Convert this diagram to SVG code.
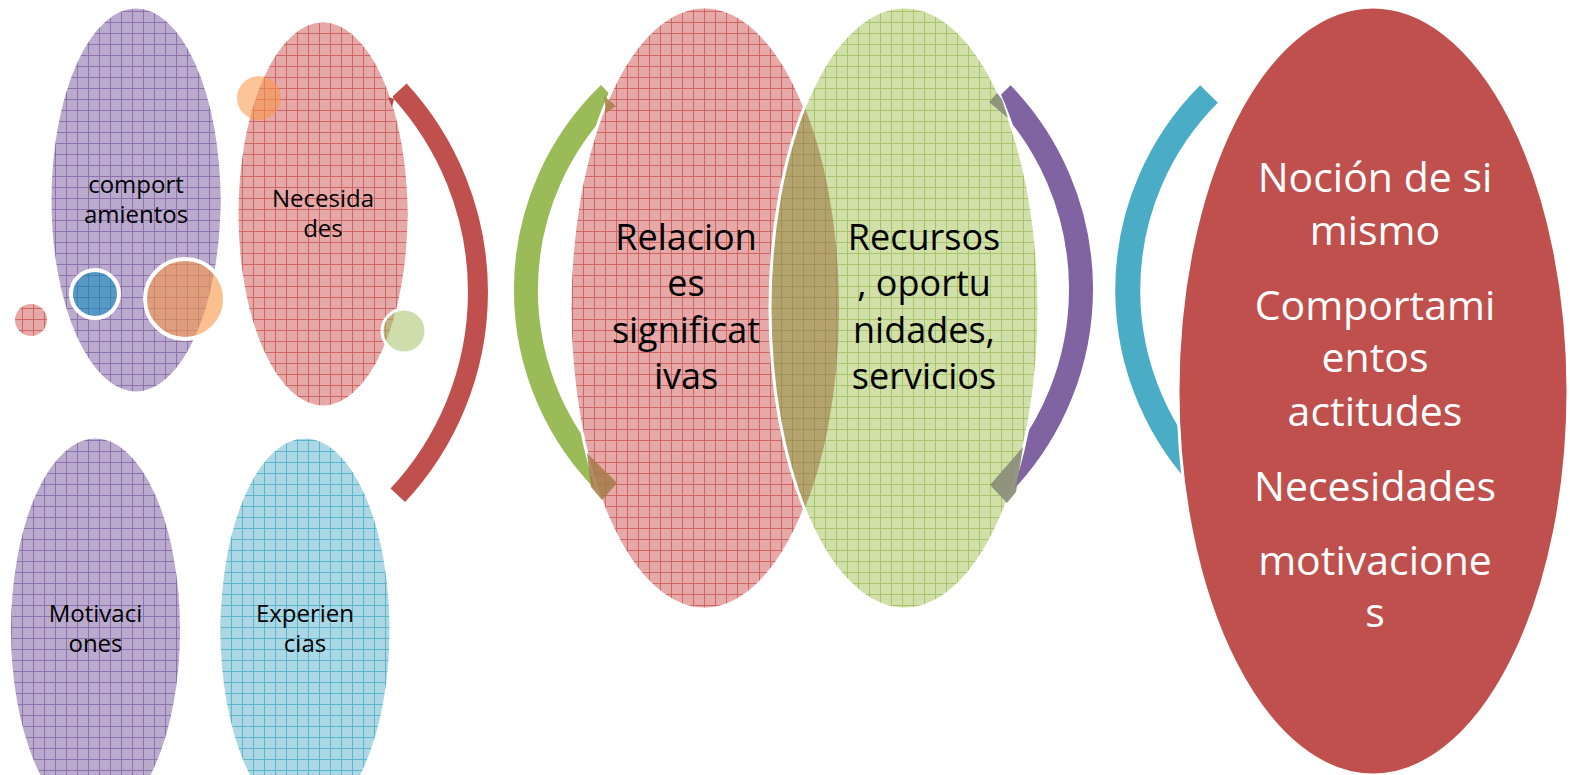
<svg xmlns="http://www.w3.org/2000/svg" width="1570" height="775" viewBox="0 0 1570 775">
<defs>
<pattern id="pPurple" width="11" height="11" patternUnits="userSpaceOnUse"><rect width="11" height="11" fill="#BAAACD"/><path d="M0 0.5H11M0.5 0V11" stroke="#8E72AE" stroke-width="1"/></pattern>
<pattern id="pRed" width="11" height="11" patternUnits="userSpaceOnUse"><rect width="11" height="11" fill="#E6A9A8"/><path d="M0 0.5H11M0.5 0V11" stroke="#CD6664" stroke-width="1"/></pattern>
<pattern id="pGreen" width="11" height="11" patternUnits="userSpaceOnUse"><rect width="11" height="11" fill="#D0E0A8"/><path d="M0 0.5H11M0.5 0V11" stroke="#A8C46C" stroke-width="1"/></pattern>
<pattern id="pOlive" width="11" height="11" patternUnits="userSpaceOnUse"><rect width="11" height="11" fill="#B5A36F"/><path d="M0 0.5H11M0.5 0V11" stroke="#9E9456" stroke-width="1"/></pattern>
<pattern id="pCyan" width="11" height="11" patternUnits="userSpaceOnUse"><rect width="11" height="11" fill="#ABD8E4"/><path d="M0 0.5H11M0.5 0V11" stroke="#5BB5CD" stroke-width="1"/></pattern>
<pattern id="pBlue" width="11" height="11" patternUnits="userSpaceOnUse"><rect width="11" height="11" fill="#5599C4"/><path d="M0 0.5H11M0.5 0V11" stroke="#3F7FAE" stroke-width="1"/></pattern>
<clipPath id="clipRel"><ellipse cx="704.5" cy="308" rx="134.5" ry="301"/></clipPath>
<style>
.arc{fill:none;stroke-linecap:butt}
.node{stroke:#fff;stroke-width:3}
.t1{font-family:"Open Sans","DejaVu Sans",sans-serif;font-size:24px;fill:#000;text-anchor:middle}
.t2{font-family:"Open Sans","DejaVu Sans",sans-serif;font-size:36px;fill:#000;text-anchor:middle}
.t3{font-family:"Open Sans","DejaVu Sans",sans-serif;font-size:41px;fill:#fff;text-anchor:middle}
.head{stroke:none}
</style>
</defs>
<rect width="1570" height="775" fill="#fff"/>

<g id="connectors">
<path class="arc" d="M399.3 90.2 A298 298 0 0 1 397.8 495.3" stroke="#C0504D" stroke-width="20"/>
<path class="arc" d="M609.3 93.6 A273 273 0 0 0 609.3 486.4" stroke="#9BBB59" stroke-width="24"/>
<path class="arc" d="M1002 93.7 A281 281 0 0 1 1006.6 479.5" stroke="#8064A2" stroke-width="24"/>
<path class="arc" d="M1209 94 A277 277 0 0 0 1209 486" stroke="#4BACC6" stroke-width="25"/>
</g>

<g id="node-comportamientos">
<ellipse class="node" cx="136" cy="200" rx="86" ry="193" fill="url(#pPurple)"/>
<text class="t1" x="136" y="193">comport</text>
<text class="t1" x="136" y="223">amientos</text>
</g>
<g id="node-necesidades">
<ellipse class="node" cx="323" cy="214" rx="86" ry="193" fill="url(#pRed)"/>
<text class="t1" x="323" y="207">Necesida</text>
<text class="t1" x="323" y="237">des</text>
</g>
<g id="node-motivaciones">
<ellipse class="node" cx="95.5" cy="630" rx="86" ry="193" fill="url(#pPurple)"/>
<text class="t1" x="95.5" y="622">Motivaci</text>
<text class="t1" x="95.5" y="652">ones</text>
</g>
<g id="node-experiencias">
<ellipse class="node" cx="305" cy="630" rx="86" ry="193" fill="url(#pCyan)"/>
<text class="t1" x="305" y="622">Experien</text>
<text class="t1" x="305" y="652">cias</text>
</g>

<g id="decor-circles">
<circle cx="31" cy="320" r="16" fill="url(#pRed)"/>
<circle cx="95" cy="294" r="24" fill="url(#pBlue)" stroke="#fff" stroke-width="4"/>
<circle cx="185" cy="299" r="40" fill="#F79646" fill-opacity="0.6" stroke="#fff" stroke-width="4"/>
<circle cx="259" cy="98" r="22" fill="#F79646" fill-opacity="0.55"/>
<circle cx="404" cy="331" r="22" fill="#9BBB59" fill-opacity="0.5" stroke="#fff" stroke-width="3"/>
</g>

<g id="node-relaciones">
<ellipse class="node" cx="704.5" cy="308" rx="134.5" ry="301" fill="url(#pRed)"/>
</g>
<g id="node-recursos">
<ellipse cx="904.5" cy="308" rx="134.5" ry="301" fill="url(#pGreen)"/>
<ellipse cx="904.5" cy="308" rx="134.5" ry="301" fill="url(#pOlive)" clip-path="url(#clipRel)"/>
<ellipse cx="904.5" cy="308" rx="134.5" ry="301" fill="none" stroke="#fff" stroke-width="3"/>
</g>

<g id="arrowheads">
<polygon class="head" points="388,97 394,99 392,107" fill="#B04845"/>
<polygon class="head" points="604,96 616,106 606,113" fill="#A67F45" fill-opacity="0.85"/>
<polygon class="head" points="587,453 617,483 602,500 591,487" fill="#A47A48" fill-opacity="0.85"/>
<polygon class="head" points="997,93 1002,99 1008,118 989,102" fill="#8A8C78" fill-opacity="0.9"/>
<polygon class="head" points="1023,447 1016,492 1007,503 990,485" fill="#8A8C78" fill-opacity="0.9"/>
</g>

<g id="labels-middle">
<text class="t2" x="686" y="250">Relacion</text>
<text class="t2" x="686" y="296">es</text>
<text class="t2" x="686" y="343">significat</text>
<text class="t2" x="686" y="389">ivas</text>
<text class="t2" x="924" y="250">Recursos</text>
<text class="t2" x="924" y="296">, oportu</text>
<text class="t2" x="924" y="343">nidades,</text>
<text class="t2" x="924" y="389">servicios</text>
</g>

<g id="node-nocion">
<ellipse cx="1373" cy="391" rx="195" ry="384" fill="#C0504D" stroke="#fff" stroke-width="3"/>
<text class="t3" x="1375" y="192">Noción de si</text>
<text class="t3" x="1375" y="245">mismo</text>
<text class="t3" x="1375" y="320">Comportami</text>
<text class="t3" x="1375" y="372">entos</text>
<text class="t3" x="1375" y="426">actitudes</text>
<text class="t3" x="1375" y="501">Necesidades</text>
<text class="t3" x="1375" y="575">motivacione</text>
<text class="t3" x="1375" y="627">s</text>
</g>
</svg>
